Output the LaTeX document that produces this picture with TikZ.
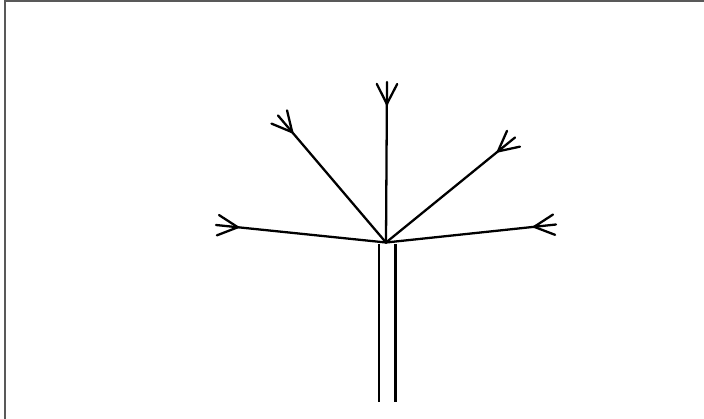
\documentclass[tikz,border=0pt]{standalone}
\usetikzlibrary{calc}
\tikzset{
  ray/.style={line width=1.3pt, line cap=round},
  trunk/.style={line width=1.7pt},
  frame/.style={black!65, line width=1.1pt}
}
\begin{document}
\begin{tikzpicture}[x=0.02cm,y=-0.02cm]
    % 1 don vi = 1 pixel, truc y huong xuong
    \useasboundingbox (0,0) rectangle (704,419);

    % Khung (chi thay canh trai va canh tren)
    \draw[frame] (5,419) -- (5,0.8) -- (704,0.8);

    % Goc chung cua cac tia
    \coordinate (O) at (386,242.5);

    % Than: hai doan thang dung
    \coordinate (trunkLtop) at (379,244);
    \coordinate (trunkLbot) at (379,402);
    \coordinate (trunkRtop) at (395.5,244);
    \coordinate (trunkRbot) at (395.5,402);
    \draw[trunk] (trunkLtop) -- (trunkLbot);
    \draw[trunk] (trunkRtop) -- (trunkRbot);

    % Dau mut cua nam tia
    \coordinate (L)  at (216,225);
    \coordinate (UL) at (278,115.5);
    \coordinate (T)  at (387,82);
    \coordinate (UR) at (515,137.5);
    \coordinate (R)  at (556,224.5);

    % Moi tia: doan thang + hai nhanh xoe ra o dau mut
    \foreach \t in {L,UL,T,UR,R}{
        \coordinate (J) at ($(\t)!0.44cm!(O)$);
        \draw[ray] (O) -- (\t);
        \draw[ray] ($(J)!0.45cm!27:(\t)$) -- (J) -- ($(J)!0.45cm!-27:(\t)$);
    }

\end{tikzpicture}
\end{document}
